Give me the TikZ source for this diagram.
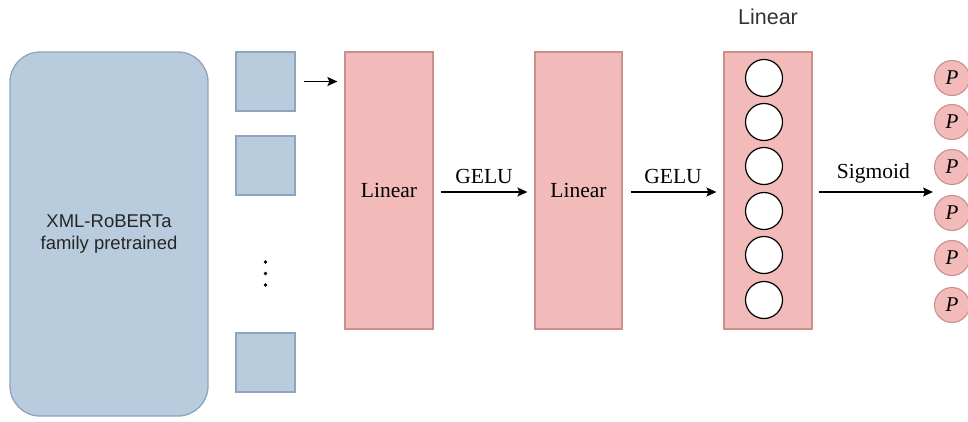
\documentclass[tikz,border=0pt]{standalone}
\usepackage{fontspec}
\setmainfont{Liberation Serif}
\setsansfont{Liberation Sans}
\usetikzlibrary{arrows.meta}
\definecolor{bfill}{HTML}{B9CCDE}
\definecolor{bdraw}{HTML}{8EA5BD}
\definecolor{pfill}{HTML}{F2BAB8}
\definecolor{pdraw}{HTML}{C9908D}
\begin{document}
\begin{tikzpicture}[x=1pt,y=-1pt,
  bluebox/.style={draw=bdraw,fill=bfill,line width=1.3pt,inner sep=0pt},
  linbox/.style={draw=pdraw,fill=pfill,line width=1.2pt,minimum width=88pt,minimum height=277pt,inner sep=0pt,font=\fontsize{21.5}{24}\selectfont},
  neuron/.style={circle,draw=black,fill=white,line width=1.2pt,minimum size=37pt,inner sep=0pt},
  pnode/.style={circle,draw=pdraw,fill=pfill,line width=1.1pt,minimum size=35pt,inner sep=0pt,font=\fontsize{21}{22}\selectfont},
  conn/.style={line width=1.4pt,-{Stealth[length=10pt,width=9pt,inset=2pt]}},
  lab/.style={font=\fontsize{21.5}{24}\selectfont,inner sep=0pt}
]
\useasboundingbox (0,0) rectangle (968,421);
\node[bluebox,rounded corners=30pt,minimum width=198pt,minimum height=364pt,align=center,
  font=\sffamily\fontsize{18.5}{22}\selectfont,text=black!85] (rob) at (109,234)
  {XML-RoBERTa\\family pretrained};
\node[bluebox,minimum size=59pt] (sq1) at (265.5,81.5) {};
\node[bluebox,minimum size=59pt] (sq2) at (265.5,165.5) {};
\node[bluebox,minimum size=59pt] (sq3) at (265.5,362.5) {};
\foreach \yy in {262,273.5,285}
  \fill (265.5,\yy) circle (1.8pt);
\node[linbox] (lin1) at (389,190.5) {Linear};
\node[linbox,minimum width=87pt] (lin2) at (578.5,190.5) {Linear};
\node[linbox] (lin3) at (768,190.5) {};
\node[font=\sffamily\fontsize{21.5}{24}\selectfont,text=black!80,inner sep=0pt] (top) at (768,17) {Linear};
\foreach \i/\yy in {1/78,2/122,3/166,4/211,5/255,6/300}
  \node[neuron] (n\i) at (764,\yy) {};
\foreach \i/\yy in {1/78,2/122,3/167,4/213,5/258,6/305}
  \node[pnode] (p\i) at (952,\yy) {\textit{P}};
\coordinate (pin) at (934,192);
\draw[conn,shorten <=8pt,shorten >=7pt] (sq1.east) -- (sq1.east -| lin1.west);
\draw[conn,shorten <=7pt,shorten >=7pt] (lin1.east |- 0,192) -- (lin2.west |- 0,192)
  node[midway,above=8pt,lab] {GELU};
\draw[conn,shorten <=8pt,shorten >=7pt] (lin2.east |- 0,192) -- (lin3.west |- 0,192)
  node[midway,above=8pt,lab] {GELU};
\draw[conn,shorten <=6pt,shorten >=1pt] (lin3.east |- 0,192) -- (pin)
  node[midway,above=8pt,lab] {Sigmoid};
\end{tikzpicture}
\end{document}
